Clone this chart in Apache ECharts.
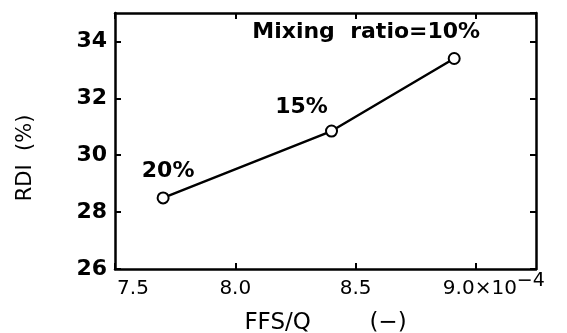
<!DOCTYPE html>
<html>
<head>
<meta charset="utf-8">
<script src="https://cdn.jsdelivr.net/npm/echarts@6/dist/echarts.min.js"></script>
<style>html,body{margin:0;padding:0;background:#fff}#c{width:567px;height:333px}</style>
</head>
<body>
<div id="c"></div>
<script>
var ffsq = [7.70, 8.40, 8.91];
var rdi = [28.5, 30.85, 33.4];
var ratioLabels = ['20%', '15%', 'Mixing  ratio=10%'];
var xTicks = [7.5, 8.0, 8.5, 9.0];
var yTicks = [26, 28, 30, 32, 34];

var labelOffsets = [[5, -27], [-30, -24], [-88, -26]];
var font = 'DejaVu Sans';
var data = ffsq.map(function (x, i) {
  return {
    value: [x, rdi[i]],
    label: {
      show: true, formatter: ratioLabels[i], position: 'inside',
      offset: labelOffsets[i], align: 'center', verticalAlign: 'middle',
      color: '#000', fontSize: 22, fontFamily: font, fontWeight: 'bold'
    }
  };
});

var axLine = {show: true, lineStyle: {color: '#000', width: 2.5}};
var chart = echarts.init(document.getElementById('c'));
chart.setOption({
  backgroundColor: '#fff',
  animation: false,
  grid: {left: 115, right: 31, top: 13, bottom: 64, containLabel: false, outerBoundsMode: 'none'},
  xAxis: [{
    type: 'value', min: 7.5, max: 9.25, interval: 0.5,
    name: 'FFS/Q        (−)', nameLocation: 'middle', nameGap: 43,
    nameTextStyle: {color: '#000', fontSize: 23, fontFamily: font},
    axisLine: axLine,
    axisTick: {show: true, inside: true, length: 6, lineStyle: {color: '#000', width: 2}},
    splitLine: {show: false},
    axisLabel: {
      color: '#000', fontSize: 20, fontFamily: font, margin: 10, showMaxLabel: false,
      formatter: function (v) {
        if (xTicks.indexOf(v) < 0) return '';
        if (v === xTicks[xTicks.length - 1]) return '{sp|}' + v.toFixed(1) + '×10{sup|−4}';
        if (v === xTicks[0]) return '{sp|}' + v.toFixed(1);
        return v.toFixed(1);
      },
      rich: {
        sp: {width: 36},
        sup: {fontSize: 19, fontFamily: font, color: '#000', verticalAlign: 'bottom', lineHeight: 20, padding: [0, 0, 8, 0]}
      }
    }
  }, {
    type: 'value', position: 'top', min: 7.5, max: 9.25, interval: 0.5,
    axisLine: axLine,
    axisTick: {show: true, inside: true, length: 6, lineStyle: {color: '#000', width: 2}},
    axisLabel: {show: false}, splitLine: {show: false}
  }],
  yAxis: [{
    type: 'value', min: 26, max: 35, interval: 2,
    name: 'RDI  (%)', nameLocation: 'middle', nameGap: 79,
    nameTextStyle: {color: '#000', fontSize: 21, fontFamily: font, padding: [0, 34, 0, 0]},
    axisLine: axLine,
    axisTick: {show: true, inside: true, length: 6, lineStyle: {color: '#000', width: 2}},
    splitLine: {show: false},
    axisLabel: {
      color: '#000', fontSize: 22, fontFamily: font, fontWeight: 'bold', margin: 8, showMaxLabel: false,
      formatter: function (v) { return yTicks.indexOf(v) < 0 ? '' : String(v); }
    }
  }, {
    type: 'value', position: 'right', min: 26, max: 35, interval: 2,
    axisLine: axLine,
    axisTick: {show: true, inside: true, length: 6, lineStyle: {color: '#000', width: 2}},
    axisLabel: {show: false}, splitLine: {show: false}
  }],
  series: [{
    type: 'line', data: data,
    symbol: 'circle', symbolSize: 11,
    lineStyle: {color: '#000', width: 2.5},
    itemStyle: {color: '#fff', borderColor: '#000', borderWidth: 2}
  }]
});
</script>
</body>
</html>
